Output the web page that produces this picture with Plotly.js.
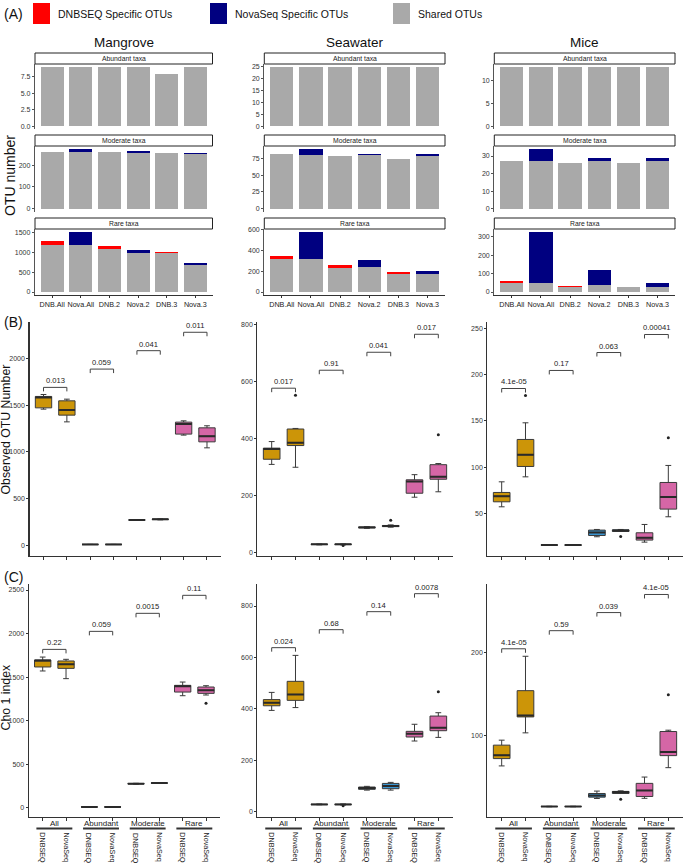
<!DOCTYPE html>
<html><head><meta charset="utf-8">
<script src="https://cdn.plot.ly/plotly-3.0.1.min.js"></script>
<style>html,body{margin:0;padding:0;background:#fff}#chart{width:685px;height:864px}</style>
</head><body><div id="chart"></div>
<script>
// ================= DATA =================
const seqGroups = ['DNB.All','Nova.All','DNB.2','Nova.2','DNB.3','Nova.3'];
const habitats = ['Mangrove','Seawater','Mice'];
const taxaStrips = ['Abundant taxa','Moderate taxa','Rare taxa'];
const legendNames = ['DNBSEQ Specific OTUs','NovaSeq Specific OTUs','Shared OTUs'];

// Panel A: shared OTUs and platform-specific OTUs (DNB columns -> DNBSEQ specific, Nova columns -> NovaSeq specific)
const mangroveAbundantShared   = [9,9,9,9,8,9];
const mangroveAbundantSpecific = [0,0,0,0,0,0];
const mangroveModerateShared   = [258,258,258,255,255,249];
const mangroveModerateSpecific = [0,16,0,9,0.5,7];
const mangroveRareShared       = [1183,1183,1092,975,975,683];
const mangroveRareSpecific     = [117,334,75,92,42,42];

const seawaterAbundantShared   = [25,25,25,25,25,25];
const seawaterAbundantSpecific = [0,0,0,0,0,0];
const seawaterModerateShared   = [81,80,78,80,74,79];
const seawaterModerateSpecific = [0,9,0,2,0.3,2];
const seawaterRareShared       = [314,314,235,245,171,171];
const seawaterRareSpecific     = [29,264,22,63,19,29];

const miceAbundantShared   = [13,13,13,13,13,13];
const miceAbundantSpecific = [0,0,0,0,0,0];
const miceModerateShared   = [27,27,26,27,26,27];
const miceModerateSpecific = [0.3,7,0,2,0,2];
const miceRareShared       = [50,51,28,36,26,30];
const miceRareSpecific     = [10,276,6,83,2,21];

// Panels B & C: box statistics [lower whisker, Q1, median, Q3, upper whisker]
const boxGroups = ['All','Abundant','Moderate','Rare'];
const platforms = ['DNBSEQ','NovaSeq'];

const mangroveObserved = [[1457,1471,1582,1593,1614],[1321,1393,1447,1546,1564],
  [8,9,9,9,9.5],[8,9,9,9,9.5],[265,268,271,273,275],[272,275,278,280,282],
  [1179,1190,1297,1318,1332],[1043,1107,1168,1257,1279]];
const mangroveObservedOutliers = [[],[],[],[],[],[],[],[]];
const mangroveObservedP = ['0.013','0.059','0.041','0.011'];
const mangroveObservedBracket = [1690,1886,2083,2280];

const seawaterObserved = [[309,327,363,366,389],[299,375,385,433,435],
  [27,28,29,29,30],[27,28,29,29,30],[85,87,88,90,91],[89,91,93,95,97],
  [194,208,249,255,273],[213,257,266,308,312]];
const seawaterObservedOutliers = [[],[551],[],[25],[],[113],[],[413]];
const seawaterObservedP = ['0.017','0.91','0.041','0.017'];
const seawaterObservedBracket = [576,639,702,765];

const miceObserved = [[57.2,62.6,68.7,72.7,84.2],[89.6,100.8,113.4,130,148],
  [15.5,15.8,15.8,15.8,16],[15.5,15.8,15.8,15.8,16],[24.8,26.2,29.5,32,32.7],[30.5,30.5,31.6,32.3,32.7],
  [19,21.2,23.7,29.1,38.1],[46.4,54.7,67.7,83.5,101.9]];
const miceObservedOutliers = [[],[177.6],[],[],[],[25],[],[131.8]];
const miceObservedP = ['4.1e-05','0.17','0.063','0.00041'];
const miceObservedBracket = [185.1,204.6,224,243.5];

const mangroveChao1 = [[1570,1616,1690,1696,1730],[1482,1600,1646,1685,1704],
  [7,8,8,9,9],[7,8,8,9,9],[270,273,276,278,280],[278,281,283,285,288],
  [1286,1328,1395,1405,1443],[1294,1313,1348,1386,1401]];
const mangroveChao1Outliers = [[],[],[],[],[],[],[],[1198]];
const mangroveChao1P = ['0.22','0.059','0.0015','0.11'];
const mangroveChao1Bracket = [1818,2025,2232,2439];

const seawaterChao1 = [[394,412,424,436,464],[405,433,456,507,608],
  [27,28,28.5,29,30],[26,28,28.5,29,30],[84,87,92,96,98.6],[84,89.5,100,110,114],
  [275,290.5,303.5,312.6,340],[289,315,327,372,385]];
const seawaterChao1Outliers = [[],[],[],[23],[],[],[],[467]];
const seawaterChao1P = ['0.024','0.68','0.14','0.0078'];
const seawaterChao1Bracket = [638,708,778,848];

const miceChao1 = [[63,71.8,75.8,88,94],[102.8,122,123.8,153.6,195],
  [13.8,14.1,14.1,14.1,14.4],[13.8,14.1,14.1,14.1,14.4],[23.8,25.4,27.4,29.8,32.7],[29.8,29.8,31.5,32.3,33],
  [24,26.2,33.5,42,49.6],[60.9,75.4,79.8,104.4,106]];
const miceChao1Outliers = [[],[],[],[],[],[23],[],[148.8]];
const miceChao1P = ['4.1e-05','0.59','0.039','4.1e-05'];
const miceChao1Bracket = [204,225.8,247.6,269.4];

// ================= LAYOUT / STYLE =================
const W = 685, H = 864;
const FONT = 'Liberation Sans, Arial, Helvetica, sans-serif';
const colBars = {shared:'#A9A9A9', dnb:'#FF0000', nova:'#000080'};
const colBox = ['#CC9508','#2E9E6A','#3A97D3','#D566A6'];
const dark = '#333333';

const fx = (a,b)=>[a/W,b/W];
const fy = (top,bot)=>[1-bot/H,1-top/H];
const sfx = n => n===1 ? '' : String(n);

const layout = {
  width:W, height:H, margin:{l:0,r:0,t:0,b:0},
  paper_bgcolor:'#fff', plot_bgcolor:'#fff', showlegend:false,
  barmode:'stack', bargap:0.2, boxmode:'overlay',
  font:{family:FONT, color:dark},
  shapes:[], annotations:[]
};
const traces = [];

// ---------- Panel A ----------
const shared = [[mangroveAbundantShared,mangroveModerateShared,mangroveRareShared],
                [seawaterAbundantShared,seawaterModerateShared,seawaterRareShared],
                [miceAbundantShared,miceModerateShared,miceRareShared]];
const specific = [[mangroveAbundantSpecific,mangroveModerateSpecific,mangroveRareSpecific],
                  [seawaterAbundantSpecific,seawaterModerateSpecific,seawaterRareSpecific],
                  [miceAbundantSpecific,miceModerateSpecific,miceRareSpecific]];
const aX = [[35,212.5],[264.3,445],[494.3,675]];
const aY = [[64,129.3],[146,211.7],[229,295]];
const aStrip = [[53,64],[135,146],[218,229]];
const aDtick = [[2.5,100,500],[5,25,200],[5,10,100]];

for (let h=0; h<3; h++){
  for (let t=0; t<3; t++){
    const n = t*3 + h + 1, s = sfx(n);
    const sh = shared[h][t], sp = specific[h][t];
    const dnb = sp.map((v,i)=> i%2===0 ? v : 0);
    const nova = sp.map((v,i)=> i%2===1 ? v : 0);
    const common = {type:'bar', x:seqGroups, xaxis:'x'+s, yaxis:'y'+s, width:0.8, hoverinfo:'skip'};
    traces.push(Object.assign({}, common, {y:sh, marker:{color:colBars.shared, line:{width:0}}, name:legendNames[2]}));
    traces.push(Object.assign({}, common, {y:dnb, marker:{color:colBars.dnb, line:{width:0}}, name:legendNames[0]}));
    traces.push(Object.assign({}, common, {y:nova, marker:{color:colBars.nova, line:{width:0}}, name:legendNames[1]}));
    const m = Math.max(...sh.map((v,i)=>v+sp[i]));
    layout['xaxis'+s] = {domain:fx(...aX[h]), anchor:'y'+s, type:'category', range:[-0.6,5.6],
      showgrid:false, zeroline:false, showline:t===2, linecolor:dark, linewidth:1.2,
      ticks:t===2?'outside':'', ticklen:2, tickcolor:dark, showticklabels:t===2, tickangle:0,
      tickfont:{size:7.2, color:'#222', family:FONT}};
    layout['yaxis'+s] = {domain:fy(...aY[t]), anchor:'x'+s, range:[-0.05*m, 1.05*m],
      showgrid:false, zeroline:false, showline:true, linecolor:'#555', linewidth:1.2,
      ticks:'outside', ticklen:2, tickcolor:'#555', dtick:aDtick[h][t], tick0:0,
      tickformat: aDtick[h][t]===2.5 ? '.1f' : '', tickfont:{size:7, color:'#333', family:FONT}};
    // strip
    layout.shapes.push({type:'rect', xref:'paper', yref:'paper',
      x0:aX[h][0]/W, x1:aX[h][1]/W, y0:1-aStrip[t][1]/H, y1:1-aStrip[t][0]/H,
      line:{color:'#222', width:1}, fillcolor:'#fff'});
    layout.annotations.push({xref:'paper', yref:'paper', x:(aX[h][0]+aX[h][1])/2/W,
      y:1-(aStrip[t][0]+aStrip[t][1])/2/H, text:taxaStrips[t], showarrow:false,
      xanchor:'center', yanchor:'middle', font:{size:6.8, color:'#222', family:FONT}});
  }
  layout.annotations.push({xref:'paper', yref:'paper', x:(aX[h][0]+aX[h][1])/2/W, y:1-43/H,
    text:habitats[h], showarrow:false, xanchor:'center', yanchor:'middle', font:{size:13.5, color:'#111', family:FONT}});
}

// legend
const legRects = [[33,50],[210,227],[393,410]];
const legText = [56,233,416];
const legCols = [colBars.dnb, colBars.nova, colBars.shared];
for (let i=0;i<3;i++){
  layout.shapes.push({type:'rect', xref:'paper', yref:'paper', x0:legRects[i][0]/W, x1:legRects[i][1]/W,
    y0:1-24/H, y1:1-3/H, line:{width:0}, fillcolor:legCols[i]});
  layout.annotations.push({xref:'paper', yref:'paper', x:legText[i]/W, y:1-14/H, text:legendNames[i],
    showarrow:false, xanchor:'left', yanchor:'middle', font:{size:10.5, color:'#111', family:FONT}});
}

// ---------- Panels B & C ----------
const boxSets = [
  [mangroveObserved, mangroveObservedOutliers, mangroveObservedP, mangroveObservedBracket],
  [seawaterObserved, seawaterObservedOutliers, seawaterObservedP, seawaterObservedBracket],
  [miceObserved, miceObservedOutliers, miceObservedP, miceObservedBracket],
  [mangroveChao1, mangroveChao1Outliers, mangroveChao1P, mangroveChao1Bracket],
  [seawaterChao1, seawaterChao1Outliers, seawaterChao1P, seawaterChao1Bracket],
  [miceChao1, miceChao1Outliers, miceChao1P, miceChao1Bracket]
];
const bcX = [[[29.5,221],[257.4,452.6],[487.4,682.6]],[[28.7,220],[257.4,452.6],[487.4,682.6]]];
const bcY = [[322,556],[584,817]];
const bcRange = [[[-115,2390],[-12,808],[4,257]],[[-107,2569],[-20.6,885.6],[1.5,282]]];
const bcTicks = [[[0,500,1000,1500,2000],[0,200,400,600,800],[50,100,150,200,250]],
                 [[0,500,1000,1500,2000,2500],[0,200,400,600,800],[100,200]]];

for (let r=0;r<2;r++){
  for (let h=0;h<3;h++){
    const n = 10 + r*3 + h, s = sfx(n);
    const [stats, outs, pv, by] = boxSets[r*3+h];
    const rng = bcRange[r][h];
    const domPx = bcY[r][1]-bcY[r][0];
    const perPx = (rng[1]-rng[0])/domPx;
    layout['xaxis'+s] = {domain:fx(...bcX[r][h]), anchor:'y'+s, range:[0.4,8.6],
      tickvals:[1,2,3,4,5,6,7,8], showticklabels:false, ticks:'outside', ticklen:3, tickcolor:dark,
      showgrid:false, zeroline:false, showline:true, linecolor:dark, linewidth:1.2};
    layout['yaxis'+s] = {domain:fy(...bcY[r]), anchor:'x'+s, range:rng, tickvals:bcTicks[r][h],
      ticks:'outside', ticklen:2, tickcolor:dark, showgrid:false, zeroline:false, showline:true,
      linecolor:dark, linewidth:1.2, tickfont:{size:7, color:'#333', family:FONT}};
    stats.forEach((st,i)=>{
      const pos = i+1, g = Math.floor(i/2);
      traces.push({type:'box', xaxis:'x'+s, yaxis:'y'+s, x:[pos],
        lowerfence:[st[0]], q1:[st[1]], median:[st[2]], q3:[st[3]], upperfence:[st[4]],
        width:0.7, whiskerwidth:0.35, fillcolor:colBox[g], line:{color:'#3a3a3a', width:1},
        boxpoints:false, hoverinfo:'skip', name:platforms[i%2]+' '+boxGroups[g]});
      // thicker median line
      layout.shapes.push({type:'line', xref:'x'+s, yref:'y'+s, x0:pos-0.35, x1:pos+0.35,
        y0:st[2], y1:st[2], line:{color:'#2a2a2a', width:2}});
      if (outs[i].length){
        traces.push({type:'scatter', mode:'markers', xaxis:'x'+s, yaxis:'y'+s,
          x:outs[i].map(()=>pos), y:outs[i], marker:{size:3, color:'#222'}, hoverinfo:'skip'});
      }
    });
    // significance brackets
    const tick = 4*perPx;
    for (let g=0; g<4; g++){
      const x1 = 2*g+1, x2 = 2*g+2, yb = by[g];
      const ln = {color:'#444', width:1};
      layout.shapes.push({type:'line', xref:'x'+s, yref:'y'+s, x0:x1, x1:x2, y0:yb, y1:yb, line:ln});
      layout.shapes.push({type:'line', xref:'x'+s, yref:'y'+s, x0:x1, x1:x1, y0:yb-tick, y1:yb, line:ln});
      layout.shapes.push({type:'line', xref:'x'+s, yref:'y'+s, x0:x2, x1:x2, y0:yb-tick, y1:yb, line:ln});
      layout.annotations.push({xref:'x'+s, yref:'y'+s, x:(x1+x2)/2, y:yb, text:pv[g], showarrow:false,
        xanchor:'center', yanchor:'bottom', yshift:0, font:{size:7.6, color:'#222', family:FONT}});
    }
    // C row x labels
    if (r===1){
      for (let g=0; g<4; g++){
        layout.annotations.push({xref:'x'+s, yref:'paper', x:2*g+1.5, y:1-823/H, text:boxGroups[g],
          showarrow:false, xanchor:'center', yanchor:'middle', font:{size:8, color:'#222', family:FONT}});
        layout.shapes.push({type:'line', xref:'x'+s, yref:'paper', x0:2*g+1-0.27, x1:2*g+2+0.27,
          y0:1-828.5/H, y1:1-828.5/H, line:{color:dark, width:2}});
        for (let k=0;k<2;k++){
          layout.annotations.push({xref:'x'+s, yref:'paper', x:2*g+1+k, y:1-830.5/H, text:platforms[k],
            showarrow:false, textangle:90, xanchor:'center', yanchor:'top',
            font:{size:7.2, color:'#222', family:FONT}});
        }
      }
    }
  }
}

// panel tags & axis titles
const tags = [['(A)',14],['(B)',322],['(C)',577]];
tags.forEach(([t,y])=>layout.annotations.push({xref:'paper', yref:'paper', x:2/W, y:1-y/H, text:t,
  showarrow:false, xanchor:'left', yanchor:'middle', font:{size:14, color:'#111', family:FONT}}));
const ytitles = [['OTU number',10,176,14],['Observed OTU Number',5.5,430,12.3],['Cho 1 index',5.5,698,12.3]];
ytitles.forEach(([t,x,y,fs])=>layout.annotations.push({xref:'paper', yref:'paper', x:x/W, y:1-y/H, text:t,
  showarrow:false, textangle:-90, xanchor:'center', yanchor:'middle', font:{size:fs, color:'#111', family:FONT}}));

Plotly.newPlot('chart', traces, layout, {staticPlot:true, displayModeBar:false});
</script>
</body></html>
